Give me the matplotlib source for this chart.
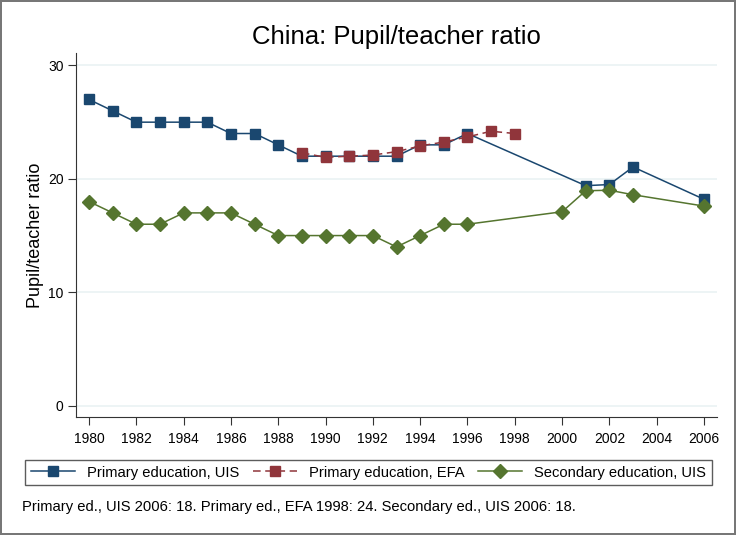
import matplotlib
matplotlib.use('Agg')
import matplotlib.pyplot as plt

plt.rcParams['font.family'] = ['Liberation Sans', 'DejaVu Sans']

# primary education, UIS
years_uis = [1980, 1981, 1982, 1983, 1984, 1985, 1986, 1987, 1988, 1989, 1990,
             1991, 1992, 1993, 1994, 1995, 1996, 2001, 2002, 2003, 2006]
prim_uis = [27, 26, 25, 25, 25, 25, 24, 24, 23, 22, 22,
            22, 22, 22, 23, 23, 24, 19.4, 19.5, 21.05, 18.2]

# primary education, EFA
years_efa = [1989, 1990, 1991, 1992, 1993, 1994, 1995, 1996, 1997, 1998]
prim_efa = [22.3, 21.9, 22.0, 22.1, 22.4, 22.9, 23.25, 23.7, 24.2, 24.0]

# secondary education, UIS
years_sec = [1980, 1981, 1982, 1983, 1984, 1985, 1986, 1987, 1988, 1989, 1990,
             1991, 1992, 1993, 1994, 1995, 1996, 2000, 2001, 2002, 2003, 2006]
sec_uis = [18, 17, 16, 16, 17, 17, 17, 16, 15, 15, 15,
           15, 15, 14, 15, 16, 16, 17.1, 18.95, 19.0, 18.6, 17.6]

xticks = list(range(1980, 2007, 2))
yticks = [0, 10, 20, 30]
note = "Primary ed., UIS 2006: 18. Primary ed., EFA 1998: 24. Secondary ed., UIS 2006: 18."

blue = '#1a476f'
red = '#90353b'
green = '#55752f'

fig = plt.figure(figsize=(7.36, 5.35), dpi=100)
fig.patch.set_edgecolor('#777777')
fig.patch.set_linewidth(1.5)
ax = fig.add_axes([76/736, 1 - 417/535, (717 - 76)/736, (417 - 53)/535])

ax.plot(years_uis, prim_uis, color=blue, marker='s', ms=7.5, lw=1.1,
        label='Primary education, UIS', zorder=3)
ax.plot(years_efa, prim_efa, color=red, marker='s', ms=7.5, lw=1.1,
        dashes=(5, 3), label='Primary education, EFA', zorder=4)
ax.plot(years_sec, sec_uis, color=green, marker='D', ms=7.5, lw=1.1,
        label='Secondary education, UIS', zorder=3)

ax.set_xlim(1979.45, 2006.55)
ax.set_ylim(-1.0, 31.1)
ax.set_xticks(xticks)
ax.set_yticks(yticks)
ax.yaxis.grid(True, color='#eaf2f3', lw=1.2)
ax.set_axisbelow(True)
for s in ['top', 'right']:
    ax.spines[s].set_visible(False)
ax.spines['left'].set_color('#333333')
ax.spines['bottom'].set_color('#333333')
ax.tick_params(labelsize=10, length=5.5, color='#333333')
ax.tick_params(axis='x', pad=5)
ax.set_ylabel('Pupil/teacher ratio', fontsize=13, labelpad=3)

fig.text(396/736, 1 - 37/535, 'China: Pupil/teacher ratio', fontsize=18.5,
         ha='center', va='center')

leg = fig.legend(loc='center', ncol=3, fontsize=10.6, frameon=True, fancybox=False,
                 bbox_to_anchor=(25/736, 1 - 490/535, (712 - 25)/736, 35/535),
                 mode='expand', handlelength=3, borderaxespad=0)
leg.get_frame().set_edgecolor('#333333')
leg.get_frame().set_linewidth(1)

fig.text(22/736, 1 - 507/535, note, fontsize=10.6, ha='left', va='center')

fig.savefig('out.png', dpi=100, edgecolor=fig.get_edgecolor())
